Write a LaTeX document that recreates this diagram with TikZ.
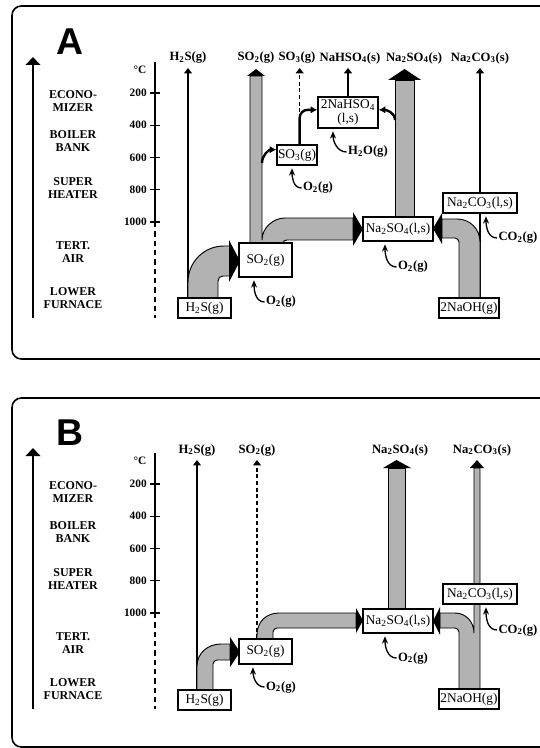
\documentclass[tikz,border=0pt]{standalone}
\usepackage{fontspec}
\setmainfont{Liberation Serif}
\newfontfamily\letterfont{Liberation Sans}
\usetikzlibrary{arrows.meta, backgrounds}
\newcommand{\subs}[1]{\textsubscript{#1}}

\tikzset{
  panel/.style={draw, line width=1.2pt, rounded corners=7pt},
  letter/.style={font=\letterfont\bfseries\fontsize{28}{28}\selectfont},
  zone/.style={font=\bfseries\fontsize{9}{9.4}\selectfont, align=center, inner sep=0pt},
  ticklabel/.style={font=\bfseries\fontsize{8.5}{9}\selectfont, anchor=east, inner sep=0pt},
  species/.style={font=\bfseries\fontsize{9.5}{10}\selectfont, inner sep=3pt},
  feedlabel/.style={font=\bfseries\fontsize{9.5}{10}\selectfont, inner sep=1pt},
  box/.style={draw, fill=white, line width=0.9pt, inner sep=0pt, align=center,
    font=\fontsize{10}{10.5}\selectfont},
  boxdim/.style 2 args={minimum width=#1*0.75pt, minimum height=#2*0.75pt},
  pipe/.style={draw, line width=0.7pt, fill=black!30},
  headtip/.style={fill=black},
  colarrow/.style={line width=0.8pt, -{Triangle[width=6pt,length=4pt]}},
  dashline/.style={dash pattern=on 3pt off 2pt},
  feed/.style={line width=1pt, -{Stealth[width=4.5pt,length=5.5pt]}},
  hook/.style={line width=1.8pt, -{Latex[width=5.5pt,length=5pt]}},
}

\begin{document}
\begin{tikzpicture}[x=0.75pt, y=-0.75pt]
\useasboundingbox (0,0) rectangle (539,748);

% frames
\draw[panel] (12,6) rectangle (560,359);
\draw[panel] (12,398) rectangle (560,747);

% zones and temperature scale, same in both panels
\foreach \p/\oy in {A/0, B/391}{
  \begin{scope}[yshift=-\oy*0.75pt]
    \node[letter] (letter\p) at (70,42) {\p};
    \draw[line width=1.1pt, -{Triangle[width=11pt,length=6pt]}] (33,318) -- (33,57);
    \node[zone] (eco\p) at (73,101) {ECONO-\\MIZER};
    \node[zone] (boil\p) at (73,141) {BOILER\\BANK};
    \node[zone] (super\p) at (73,188) {SUPER\\HEATER};
    \node[zone] (tert\p) at (73,252) {TERT.\\AIR};
    \node[zone] (lower\p) at (73,298) {LOWER\\FURNACE};
    \node[ticklabel, anchor=center] (deg\p) at (140,70) {°C};
    \draw[line width=0.9pt] (155,62) -- (155,222);
    \draw[line width=0.9pt, dash pattern=on 4pt off 3pt] (155,222) -- (155,318);
    \foreach \t [count=\k from 0] in {200,400,600,800,1000}{
      \draw[line width=0.9pt] (150,{93+32.25*\k}) -- (160,{93+32.25*\k});
      \node[ticklabel] (t\t\p) at (147,{93+32.25*\k}) {\t};
    }
  \end{scope}
}

% panel A
\node[species] (h2sgA) at (188,58) {H\subs{2}S(g)};
\node[species] (so2gA) at (256,58) {SO\subs{2}(g)};
\node[species] (so3gA) at (297,58) {SO\subs{3}(g)};
\node[species] (nahso4gA) at (350,58) {NaHSO\subs{4}(s)};
\node[species] (na2so4gA) at (414,58) {Na\subs{2}SO\subs{4}(s)};
\node[species] (na2co3gA) at (480,58) {Na\subs{2}CO\subs{3}(s)};

\node[box, boxdim={53}{20}] (h2sA) at (204.5,308) {H\subs{2}S(g)};
\node[box, boxdim={53}{34}] (so2A) at (265.5,260) {SO\subs{2}(g)};
\node[box, boxdim={40}{20}] (so3A) at (297,155) {SO\subs{3}(g)};
\node[box, boxdim={60}{31}] (nahso4A) at (348,112.5) {2NaHSO\subs{4}\\(l,s)};
\node[box, boxdim={70}{24}] (na2so4A) at (398,229) {Na\subs{2}SO\subs{4}(l,s)};
\node[box, boxdim={74}{20}] (na2co3A) at (480,203) {Na\subs{2}CO\subs{3}(l,s)};
\node[box, boxdim={60}{20}] (naohA) at (469,308) {2NaOH(g)};

\begin{pgfonlayer}{background}
  \draw[colarrow] (h2sA.north -| h2sgA) -- (h2sgA.south);
  \draw[colarrow, dashline] ([xshift=2pt]so3gA |- nahso4A.west) -- ([xshift=2pt]so3gA.south);
  \draw[colarrow, line width=2pt] (nahso4A.north) -- (nahso4A.north |- nahso4gA.south);
  \draw[colarrow] (na2co3A |- naohA.north) -- (na2co3gA.south);
  % H2S -> SO2
  \filldraw[pipe] (188,298) -- (188,282) .. controls (188,262) and (204,246) .. (224,246)
    -- (230,246) -- (230,276) -- (223,276) .. controls (220,276) and (218,278) .. (218,281)
    -- (218,298) -- cycle;
  \fill[headtip] (229,240) -- (240,261) -- (229,282) -- cycle;
  % SO2 up and to Na2SO4
  \filldraw[pipe] (250,243) -- (250,76) -- (262,76) -- (262,240) .. controls (262,228) and (273,218) .. (285,218)
    -- (353,218) -- (353,240) -- (287,240) .. controls (285,240) and (283,241) .. (283,243) -- cycle;
  \fill[headtip] (247,76) -- (256,69) -- (265,76) -- cycle;
  \fill[headtip] (353,212) -- (363,229) -- (353,246) -- cycle;
  % Na2SO4 up
  \filldraw[pipe] (395,217) rectangle (414,80);
  \fill[headtip] (388,80) -- (404.5,69) -- (421,80) -- cycle;
  % NaOH -> Na2SO4
  \filldraw[pipe] (480,298) -- (480,242) .. controls (480,229) and (470,219) .. (457,219)
    -- (442,219) -- (442,238) -- (455,238) .. controls (457,238) and (459,240) .. (459,242)
    -- (459,298) -- cycle;
  \fill[headtip] (442,213) -- (433,228.5) -- (442,244) -- cycle;
\end{pgfonlayer}

\coordinate (so2tapA) at (262,163);
\coordinate (na2so4tapA) at (395,120);
\draw[hook] (so2tapA) to[out=90,in=180] ([yshift=4pt]so3A.west);
\draw[hook, rounded corners=6pt] ([xshift=2pt]so3A.north) |- ([yshift=2pt]nahso4A.west);
\draw[hook] (na2so4tapA) to[out=90,in=0] ([yshift=2pt]nahso4A.east);

\node[feedlabel] (o2aA) at (281,302) {O\subs{2}(g)};
\node[feedlabel] (o2bA) at (318,188) {O\subs{2}(g)};
\node[feedlabel] (h2oA) at (368,152) {H\subs{2}O(g)};
\node[feedlabel] (o2cA) at (413,267) {O\subs{2}(g)};
\node[feedlabel] (co2A) at (518,238) {CO\subs{2}(g)};
\draw[feed] (o2aA.west) to[out=180,in=270] ([xshift=-8.6pt,yshift=-2pt]so2A.south);
\draw[feed] (o2bA.west) to[out=180,in=270] ([xshift=-3.75pt,yshift=-2pt]so3A.south);
\draw[feed] (h2oA.west) to[out=180,in=270] ([xshift=-11.25pt,yshift=-2pt]nahso4A.south);
\draw[feed] (o2cA.west) to[out=180,in=270] ([xshift=-9.75pt,yshift=-2pt]na2so4A.south);
\draw[feed] (co2A.west) to[out=180,in=270] ([xshift=4.5pt,yshift=-2pt]na2co3A.south);

% panel B
\node[species] (h2sgB) at (197,450) {H\subs{2}S(g)};
\node[species] (so2gB) at (257,450) {SO\subs{2}(g)};
\node[species] (na2so4gB) at (400,450) {Na\subs{2}SO\subs{4}(s)};
\node[species] (na2co3gB) at (482,450) {Na\subs{2}CO\subs{3}(s)};

\node[box, boxdim={53}{20}] (h2sB) at (204.5,700) {H\subs{2}S(g)};
\node[box, boxdim={53}{25}] (so2B) at (265.5,651.5) {SO\subs{2}(g)};
\node[box, boxdim={70}{24}] (na2so4B) at (398,621) {Na\subs{2}SO\subs{4}(l,s)};
\node[box, boxdim={74}{20}] (na2co3B) at (480,594) {Na\subs{2}CO\subs{3}(l,s)};
\node[box, boxdim={60}{20}] (naohB) at (469,699) {2NaOH(g)};

\begin{pgfonlayer}{background}
  \draw[colarrow] (h2sB.north -| h2sgB) -- (h2sgB.south);
  \draw[colarrow, dashline] (so2B.north -| so2gB) -- (so2gB.south);
  % H2S -> SO2
  \filldraw[pipe] (197,690) -- (197,666) .. controls (197,653) and (208,644) .. (221,644)
    -- (230,644) -- (230,660) -- (217,660) .. controls (215,660) and (213,662) .. (213,664)
    -- (213,690) -- cycle;
  \fill[headtip] (230,637) -- (240,652) -- (230,667) -- cycle;
  % SO2 -> Na2SO4
  \filldraw[pipe] (257,639) -- (257,635) .. controls (257,622) and (266,613) .. (279,613)
    -- (356,613) -- (356,628) -- (277,628) .. controls (275,628) and (273,630) .. (273,632)
    -- (273,639) -- cycle;
  \fill[headtip] (356,608) -- (363,620.5) -- (356,633) -- cycle;
  % Na2SO4 up
  \filldraw[pipe] (388,609) rectangle (405,468);
  \fill[headtip] (383,468) -- (396.5,460) -- (411,468) -- cycle;
  % NaOH -> Na2SO4 and Na2CO3 up
  \filldraw[pipe] (480,689) -- (480,468) -- (474,468) -- (474,633) .. controls (474,622) and (466,613) .. (455,613)
    -- (440,613) -- (440,628) -- (455,628) .. controls (457,628) and (459,630) .. (459,632)
    -- (459,689) -- cycle;
  \fill[headtip] (470,468) -- (477,460) -- (484,468) -- cycle;
  \fill[headtip] (440,607) -- (433,621) -- (440,635) -- cycle;
\end{pgfonlayer}

\node[feedlabel] (o2aB) at (281,687) {O\subs{2}(g)};
\node[feedlabel] (o2cB) at (413,658) {O\subs{2}(g)};
\node[feedlabel] (co2B) at (518,630) {CO\subs{2}(g)};
\draw[feed] (o2aB.west) to[out=180,in=270] ([xshift=-9.4pt,yshift=-2pt]so2B.south);
\draw[feed] (o2cB.west) to[out=180,in=270] ([xshift=-9.75pt,yshift=-2pt]na2so4B.south);
\draw[feed] (co2B.west) to[out=180,in=270] ([xshift=4.5pt,yshift=-2pt]na2co3B.south);
\end{tikzpicture}
\end{document}
